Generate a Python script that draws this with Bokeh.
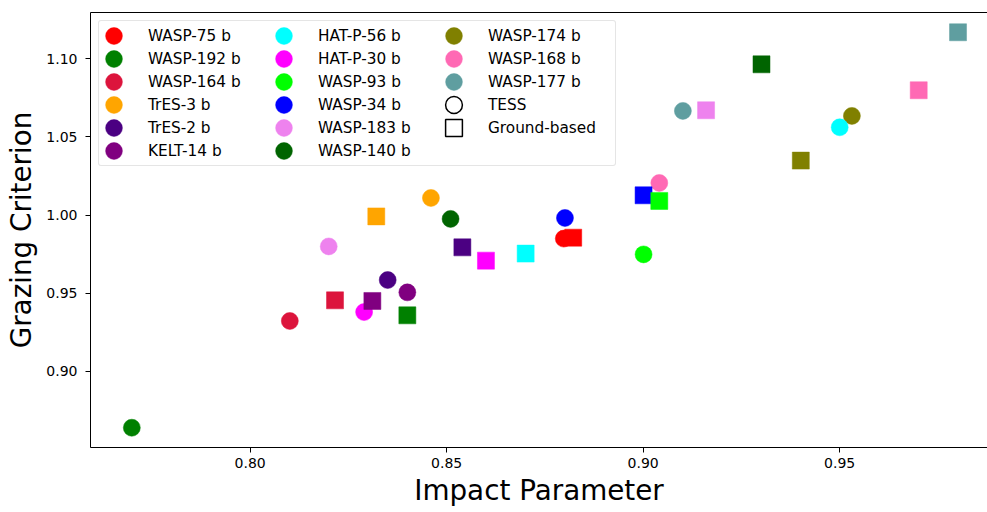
from bokeh.plotting import figure
from bokeh.models import (ColumnDataSource, Legend, LegendItem, LinearAxis,
                          FixedTicker, NumeralTickFormatter, Range1d)
from bokeh.embed import file_html
from bokeh.resources import INLINE

# ---------------- data ----------------
planets = ["WASP-75 b", "WASP-192 b", "WASP-164 b", "TrES-3 b", "TrES-2 b",
           "KELT-14 b", "HAT-P-56 b", "HAT-P-30 b", "WASP-93 b", "WASP-34 b",
           "WASP-183 b", "WASP-140 b", "WASP-174 b", "WASP-168 b", "WASP-177 b"]
colors = ["red", "green", "crimson", "orange", "indigo",
          "purple", "cyan", "magenta", "lime", "blue",
          "violet", "darkgreen", "olive", "hotpink", "cadetblue"]

# TESS (circles): impact parameter, grazing criterion
tess_b = [0.8798, 0.7699, 0.8101, 0.8460, 0.8350, 0.8400, 0.9500, 0.8290,
          0.9001, 0.8801, 0.8200, 0.8510, 0.9531, 0.9041, 0.9101]
tess_g = [0.9850, 0.8640, 0.9323, 1.0110, 0.9585, 0.9506, 1.0562, 0.9380,
          0.9749, 0.9982, 0.9800, 0.9976, 1.0635, 1.0206, 1.0667]
# Ground-based (squares)
ground_b = [0.8822, 0.8400, 0.8216, 0.8321, 0.8540, 0.8311, 0.8701, 0.8600,
            0.9041, 0.9001, 0.9160, 0.9301, 0.9401, 0.9701, 0.9801]
ground_g = [0.9856, 0.9359, 0.9455, 0.9992, 0.9794, 0.9451, 0.9754, 0.9709,
            1.0091, 1.0127, 1.0671, 1.0965, 1.0349, 1.0799, 1.1170]

x_ticks = [0.80, 0.85, 0.90, 0.95]
y_ticks = [0.90, 0.95, 1.00, 1.05, 1.10]

FONT = "DejaVu Sans"

# ranges (5% margins as in the reference, right side cropped)
all_b = tess_b + ground_b
all_g = tess_g + ground_g
gmin, gmax = min(all_g), max(all_g)
bmin, bmax = min(all_b), max(all_b)
x_start = bmin - 0.05 * (bmax - bmin)
x_end = 0.9876
y_start = gmin - 0.05 * (gmax - gmin)
y_end = gmax + 0.05 * (gmax - gmin)

p = figure(width=987, height=512, output_backend="svg", toolbar_location=None,
           x_range=Range1d(x_start, x_end), y_range=Range1d(y_start, y_end),
           min_border_left=90, min_border_right=0, min_border_top=12,
           min_border_bottom=65, background_fill_color="white",
           border_fill_color="white")
p.outline_line_color = None
p.xgrid.visible = False
p.ygrid.visible = False

for ax in (p.xaxis[0], p.yaxis[0]):
    ax.axis_line_color = "black"
    ax.axis_line_width = 1
    ax.major_tick_line_color = "black"
    ax.major_tick_out = 5
    ax.major_tick_in = 0
    ax.minor_tick_line_color = None
    ax.major_label_text_font = FONT
    ax.major_label_text_font_size = "14px"
    ax.major_label_text_color = "black"
    ax.axis_label_text_font = FONT
    ax.axis_label_text_font_size = "27.8px"
    ax.axis_label_text_font_style = "normal"
    ax.axis_label_text_color = "black"
    ax.formatter = NumeralTickFormatter(format="0.00")

p.xaxis[0].ticker = FixedTicker(ticks=x_ticks)
p.yaxis[0].ticker = FixedTicker(ticks=y_ticks)
p.xaxis[0].axis_label = "Impact Parameter"
p.yaxis[0].axis_label = "Grazing Criterion"
p.xaxis[0].major_label_standoff = 5
p.xaxis[0].axis_label_standoff = 3
p.yaxis[0].major_label_standoff = 8
p.yaxis[0].axis_label_standoff = 5

# top spine
top = LinearAxis(ticker=FixedTicker(ticks=[]), axis_line_color="black",
                 axis_line_width=1, major_tick_line_color=None,
                 minor_tick_line_color=None, major_label_text_font_size="0px")
p.add_layout(top, "above")

n = len(planets)
circle_renderers = [None] * n
# TESS circles (drawn in reverse order, as in the reference stacking)
for i in reversed(range(n)):
    src = ColumnDataSource(dict(x=[tess_b[i]], y=[tess_g[i]]))
    circle_renderers[i] = p.ellipse(x="x", y="y", width=17, height=17,
                                    width_units="screen", height_units="screen",
                                    source=src, fill_color=colors[i],
                                    line_color=colors[i], line_width=0.5)

# Ground-based squares
for i in reversed(range(n)):
    src = ColumnDataSource(dict(x=[ground_b[i]], y=[ground_g[i]]))
    p.scatter(x="x", y="y", marker="square", size=17, source=src,
              fill_color=colors[i], line_color=colors[i], line_width=0.5)

items = [LegendItem(label=planets[i], renderers=[circle_renderers[i]])
         for i in range(n)]

# legend-only markers
nan_src1 = ColumnDataSource(dict(x=[float("nan")], y=[float("nan")]))
nan_src2 = ColumnDataSource(dict(x=[float("nan")], y=[float("nan")]))
r_tess = p.ellipse(x="x", y="y", width=17, height=17, width_units="screen",
                   height_units="screen", source=nan_src1, fill_color=None,
                   line_color="black", line_width=1.5)
r_ground = p.rect(x="x", y="y", width=17, height=17, width_units="screen",
                  height_units="screen", source=nan_src2, fill_color=None,
                  line_color="black", line_width=1.5)
items.append(LegendItem(label="TESS", renderers=[r_tess]))
items.append(LegendItem(label="Ground-based", renderers=[r_ground]))

legend = Legend(items=items, location="top_left", orientation="vertical",
                nrows=6, ncols=3,
                glyph_width=21, glyph_height=21, label_height=21,
                label_standoff=24, label_width=123, spacing=2,
                padding=4, margin=8,
                label_text_font=FONT, label_text_font_size="15.3px",
                label_text_color="black",
                border_line_color="#cccccc", border_line_width=1,
                background_fill_color="white", background_fill_alpha=0.8,
                border_radius=3)
p.add_layout(legend)

open("out.html", "w").write(file_html(p, INLINE))
